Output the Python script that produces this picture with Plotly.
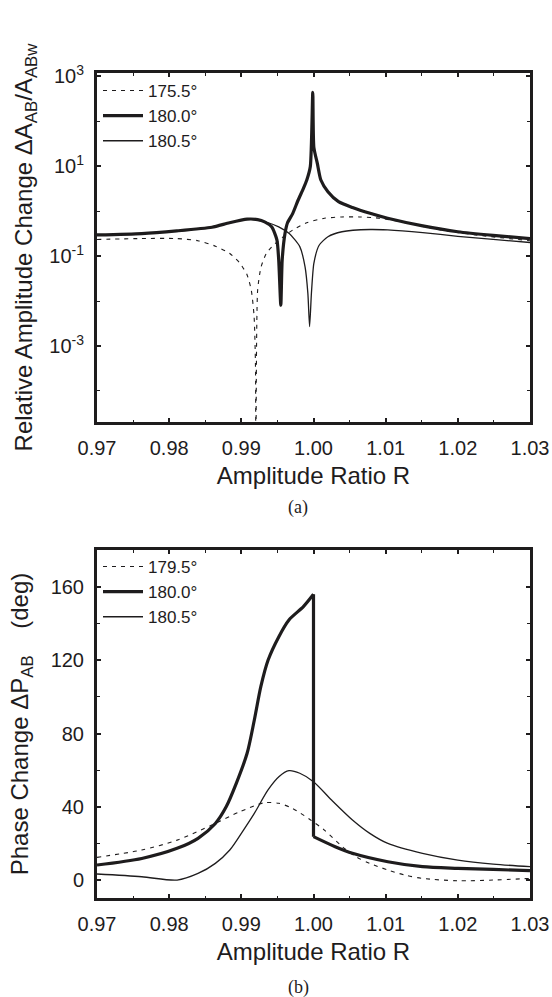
import plotly.graph_objects as go

# ---------------- data: panel (a) ----------------
a_labels = ["175.5°", "180.0°", "180.5°"]

a1_x = [0.970, 0.97619, 0.98106, 0.984, 0.98641, 0.98836, 0.98982, 0.9908, 0.99138, 0.99177, 0.99196, 0.99201,
        0.99226, 0.99274, 0.99347, 0.99445, 0.99566, 0.99713, 0.99907, 1.00151, 1.00394, 1.00638, 1.0093,
        1.01271, 1.01758, 1.02245, 1.030]
a1_y = [0.234, 0.245, 0.245, 0.219, 0.166, 0.115, 0.069, 0.038, 0.0174, 0.0045, 0.00035, 1e-7,
        0.0174, 0.0575, 0.115, 0.174, 0.257, 0.380, 0.550, 0.692, 0.741, 0.741, 0.692,
        0.550, 0.380, 0.295, 0.219]

a2_x = [0.970, 0.97619, 0.98106, 0.98593, 0.98836, 0.9908, 0.99226, 0.99323, 0.9942, 0.99493, 0.99518,
        0.99547, 0.99566, 0.99605, 0.9964, 0.99713, 0.99786, 0.99859, 0.99907, 0.99956, 0.99990,
        1.00005, 1.00053, 1.00102, 1.0020, 1.00346, 1.0054, 1.00784, 1.01027, 1.01514, 1.0200,
        1.02489, 1.030]
a2_y = [0.295, 0.316, 0.363, 0.437, 0.550, 0.661, 0.646, 0.575, 0.447, 0.229, 0.081,
        0.0081, 0.081, 0.316, 0.550, 0.891, 1.74, 3.16, 4.90, 9.77, 437.0,
        26.0, 11.5, 4.90, 2.69, 1.62, 1.20, 0.891, 0.692, 0.468, 0.347,
        0.288, 0.245]

a3_x = [0.970, 0.97619, 0.98106, 0.98593, 0.98836, 0.9908, 0.99226, 0.99372, 0.99518, 0.99664, 0.9981,
        0.99883, 0.99922, 0.99946, 0.99971, 1.00005, 1.00078, 1.0020, 1.00394, 1.00784, 1.01027,
        1.01514, 1.0200, 1.02489, 1.030]
a3_y = [0.295, 0.316, 0.363, 0.437, 0.550, 0.661, 0.631, 0.550, 0.447, 0.316, 0.162,
        0.0575, 0.0148, 0.0027, 0.0148, 0.069, 0.174, 0.269, 0.347, 0.389, 0.380,
        0.331, 0.275, 0.234, 0.200]

# ---------------- data: panel (b) ----------------
b_labels = ["179.5°", "180.0°", "180.5°"]

b1_x = [0.970, 0.9762, 0.9811, 0.9859, 0.9898, 0.9932, 0.9952, 0.9971, 0.9996, 1.0015, 1.0040, 1.0059,
        1.0078, 1.0103, 1.0127, 1.0151, 1.0200, 1.0249, 1.030]
b1_y = [12.4, 16.4, 21.8, 30.0, 37.3, 42.2, 41.9, 39.1, 32.8, 27.3, 18.2, 12.7,
        9.1, 5.5, 2.7, 0.9, -0.4, 0.0, 0.9]

# 180.0 deg: rising branch, jump at R = 1, decaying branch
b2_rise_x = [0.970, 0.9762, 0.9811, 0.9840, 0.9864, 0.9879, 0.9893, 0.9908, 0.9918, 0.9927, 0.9937, 0.9952,
             0.9966, 0.9986, 1.0000]
b2_rise_y = [8.2, 11.8, 17.3, 22.8, 30.9, 40.0, 52.8, 69.2, 87.4, 105.6, 120.0, 132.9,
             142.0, 149.3, 156.0]
b2_jump_x = [1.0000, 1.0000]
b2_jump_y = [156.0, 23.7]
b2_tail_x = [1.0000, 1.0030, 1.0054, 1.0103, 1.0151, 1.0200, 1.0249, 1.030]
b2_tail_y = [23.7, 18.2, 14.6, 10.0, 7.3, 6.4, 5.8, 5.1]

b3_x = [0.970, 0.9762, 0.9811, 0.9840, 0.9864, 0.9884, 0.9903, 0.9918, 0.9937, 0.9952, 0.9966, 0.9981,
        1.0000, 1.0025, 1.0054, 1.0078, 1.0103, 1.0151, 1.0200, 1.0249, 1.030]
b3_y = [3.3, 1.8, 0.0, 3.6, 9.1, 16.4, 27.3, 36.4, 49.2, 56.4, 59.7, 58.3,
        53.7, 43.7, 32.8, 25.5, 20.0, 14.6, 10.9, 8.7, 7.3]

x_ticks = [0.97, 0.98, 0.99, 1.00, 1.01, 1.02, 1.03]
a_tickvals = [1e3, 1e1, 1e-1, 1e-3]
a_ticktext = ["10<sup>3</sup>", "10<sup>1</sup>", "10<sup>-1</sup>", "10<sup>-3</sup>"]
a_minor = [1e2, 1e0, 1e-2, 1e-4]
b_tickvals = [0, 40, 80, 120, 160]

# ---------------- styling ----------------
INK = "#1e1c1d"
FONT = "Liberation Sans, Arial, Helvetica, sans-serif"
SERIF = "Liberation Serif, Times New Roman, serif"
W, H = 552, 997
xd = [97 / W, 530 / W]
yd_a = [1 - 422 / H, 1 - 73 / H]
yd_b = [1 - 898 / H, 1 - 550 / H]

DASHED = dict(color=INK, width=1.1, dash="4px,5px")
THICK = dict(color=INK, width=3.2)
THIN = dict(color=INK, width=1.3)


def spline(st, sm=0.8):
    return dict(st, shape="spline", smoothing=sm)


fig = go.Figure()
# panel (a)
fig.add_trace(go.Scatter(x=a1_x, y=a1_y, mode="lines", name=a_labels[0], line=spline(DASHED, 0.6),
                         xaxis="x", yaxis="y", legend="legend"))
fig.add_trace(go.Scatter(x=a2_x, y=a2_y, mode="lines", name=a_labels[1], line=spline(THICK, 0.6),
                         xaxis="x", yaxis="y", legend="legend"))
fig.add_trace(go.Scatter(x=a3_x, y=a3_y, mode="lines", name=a_labels[2], line=spline(THIN, 0.6),
                         xaxis="x", yaxis="y", legend="legend"))
# panel (b)
fig.add_trace(go.Scatter(x=b1_x, y=b1_y, mode="lines", name=b_labels[0], line=spline(DASHED),
                         xaxis="x2", yaxis="y2", legend="legend2"))
fig.add_trace(go.Scatter(x=b2_rise_x, y=b2_rise_y, mode="lines", name=b_labels[1], line=spline(THICK),
                         legendgroup="b2", xaxis="x2", yaxis="y2", legend="legend2"))
fig.add_trace(go.Scatter(x=b2_jump_x, y=b2_jump_y, mode="lines", name=b_labels[1], line=THICK,
                         legendgroup="b2", showlegend=False, xaxis="x2", yaxis="y2", legend="legend2"))
fig.add_trace(go.Scatter(x=b2_tail_x, y=b2_tail_y, mode="lines", name=b_labels[1], line=spline(THICK),
                         legendgroup="b2", showlegend=False, xaxis="x2", yaxis="y2", legend="legend2"))
fig.add_trace(go.Scatter(x=b3_x, y=b3_y, mode="lines", name=b_labels[2], line=spline(THIN),
                         xaxis="x2", yaxis="y2", legend="legend2"))

common_axis = dict(showline=True, linecolor=INK, linewidth=3, mirror="ticks",
                   ticks="inside", ticklen=4, tickwidth=1.5, tickcolor=INK,
                   showgrid=False, zeroline=False, automargin=False,
                   tickfont=dict(family=FONT, size=20, color=INK))

xcommon = dict(common_axis, range=[0.97, 1.03], tickvals=x_ticks, tickformat=".2f",
               minor=dict(dtick=0.005, tick0=0.97, ticks="inside", ticklen=2.5, tickwidth=1.2,
                          tickcolor=INK, showgrid=False),
               title=dict(text="Amplitude Ratio R", font=dict(family=FONT, size=24, color=INK),
                          standoff=10),
               ticklabelstandoff=6)

legend_common = dict(xanchor="left", yanchor="top", bgcolor="rgba(0,0,0,0)", borderwidth=0,
                     itemwidth=40, tracegroupgap=0, font=dict(family=FONT, size=17, color=INK))

fig.update_layout(
    width=W, height=H, margin=dict(l=0, r=0, t=0, b=0, autoexpand=False),
    paper_bgcolor="white", plot_bgcolor="white", showlegend=True,
    xaxis=dict(xcommon, domain=xd, anchor="y"),
    yaxis=dict(common_axis, domain=yd_a, anchor="x", type="log", range=[-4.69, 3.07],
               tickvals=a_tickvals, ticktext=a_ticktext, ticklabelstandoff=6,
               minor=dict(tickvals=a_minor, ticks="inside", ticklen=3, tickwidth=1.2,
                          tickcolor=INK, showgrid=False),
               title=dict(text="Relative Amplitude Change ΔA<sub>AB</sub>/A<sub>ABw</sub>",
                          font=dict(family=FONT, size=24, color=INK), standoff=10)),
    xaxis2=dict(xcommon, domain=xd, anchor="y2"),
    yaxis2=dict(common_axis, domain=yd_b, anchor="x2", range=[-9.8, 180.2],
                tickvals=b_tickvals, ticklabelstandoff=6,
                minor=dict(dtick=20, tick0=0, ticks="inside", ticklen=3, tickwidth=1.2,
                           tickcolor=INK, showgrid=False),
                title=dict(text="Phase Change ΔP<sub>AB</sub>\u00a0\u00a0\u00a0\u00a0(deg)",
                           font=dict(family=FONT, size=24, color=INK), standoff=16)),
    legend=dict(legend_common, x=98 / W, y=1 - 73 / H),
    legend2=dict(legend_common, x=98 / W, y=1 - 549 / H),
    annotations=[
        dict(text="(a)", x=298 / W, y=1 - 507 / H, xref="paper", yref="paper",
             xanchor="center", yanchor="middle", showarrow=False,
             font=dict(family=SERIF, size=18, color=INK)),
        dict(text="(b)", x=298 / W, y=1 - 987 / H, xref="paper", yref="paper",
             xanchor="center", yanchor="middle", showarrow=False,
             font=dict(family=SERIF, size=18, color=INK)),
    ],
)

fig.write_html("out.html")
